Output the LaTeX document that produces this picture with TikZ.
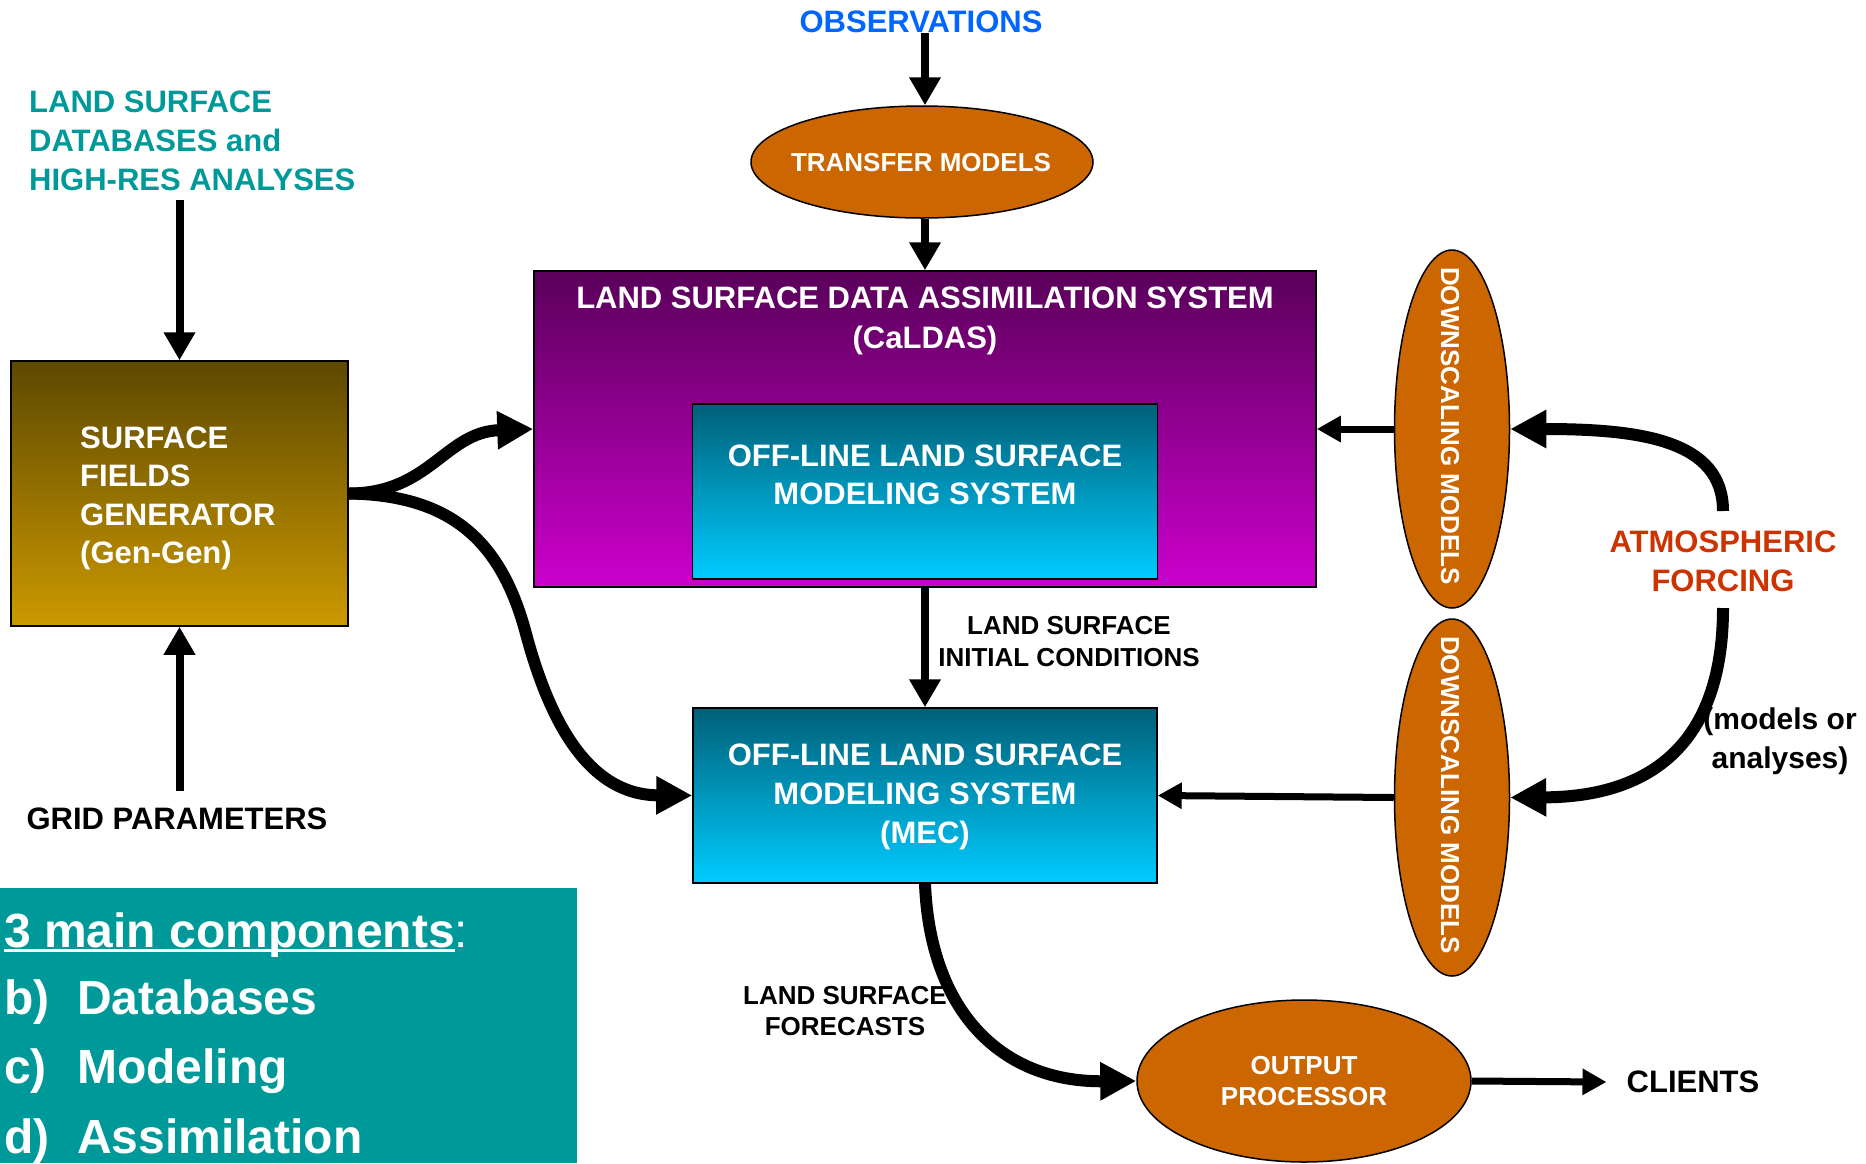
\documentclass[tikz,border=0pt]{standalone}
\usepackage{fontspec}
\setmainfont{Liberation Sans}
\usetikzlibrary{arrows.meta,shapes.geometric}
\definecolor{orng}{RGB}{204,102,0}
\definecolor{tealc}{RGB}{0,153,153}
\definecolor{obsblue}{RGB}{0,102,255}
\definecolor{atmred}{RGB}{204,51,0}
\definecolor{ggtop}{RGB}{92,72,0}
\definecolor{ggbot}{RGB}{204,153,0}
\definecolor{pptop}{RGB}{90,0,90}
\definecolor{ppbot}{RGB}{204,0,204}
\definecolor{cytop}{RGB}{0,96,120}
\definecolor{cybot}{RGB}{0,204,255}
\newcommand{\fsz}[2]{\fontsize{#1}{#2}\selectfont}
\begin{document}
\begin{tikzpicture}[x=1pt,y=-1pt,
  every node/.style={inner sep=0pt},
  oval/.style={ellipse, draw=black, line width=1.5pt, fill=orng, text=white},
  boxg/.style={rectangle, draw=black, line width=1.5pt, text=white},
  varr/.style={line width=8pt, -{Triangle[length=28pt,width=30pt]}},
  harr/.style={line width=7pt, -{Triangle[length=24pt,width=25pt]}},
  thickarr/.style={line width=12pt, -{Triangle[length=36pt,width=36pt]}},
]
\useasboundingbox (0,0) rectangle (1866,1163);

% top
\node[font=\bfseries\fsz{31}{38}, text=obsblue] (obs) at (921,22) {OBSERVATIONS};
\node[oval, minimum width=342pt, minimum height=112pt] (trans) at (922,162) {};
\node[text=white, font=\bfseries\fsz{26}{30}] (transtxt) at (921,163) {TRANSFER MODELS};

% CaLDAS
\node[boxg, minimum width=782pt, minimum height=316pt, top color=pptop, bottom color=ppbot] (caldas) at (925,429) {};
\node[align=center, text=white, font=\bfseries\fsz{31}{40}] (caltitle) at (925,321) {LAND SURFACE DATA ASSIMILATION SYSTEM\\(CaLDAS)};
\node[boxg, minimum width=465pt, minimum height=175pt, top color=cytop, bottom color=cybot] (inner) at (925,491.5) {};
\node[align=center, text=white, font=\bfseries\fsz{31}{38}] (innertxt) at (925,475) {OFF-LINE LAND SURFACE\\MODELING SYSTEM};

% MEC
\node[boxg, minimum width=464pt, minimum height=175pt, top color=cytop, bottom color=cybot] (mec) at (925,795.5) {};
\node[align=center, text=white, font=\bfseries\fsz{31}{39}] (mectxt) at (925,797) {OFF-LINE LAND SURFACE\\MODELING SYSTEM\\(MEC)};

% Gen-Gen
\node[boxg, minimum width=337pt, minimum height=265pt, top color=ggtop, bottom color=ggbot] (gen) at (179.5,493.5) {};
\node[align=left, anchor=west, text=white, font=\bfseries\fsz{31}{38.5}] (gentxt) at (80,498.5) {SURFACE\\FIELDS\\GENERATOR\\(Gen-Gen)};

% downscaling
\node[oval, minimum width=115pt, minimum height=358pt] (ds1) at (1452,429) {};
\node[rotate=-90, text=white, font=\bfseries\fsz{26}{30}] (ds1t) at (1450,426) {DOWNSCALING MODELS};
\node[oval, minimum width=115pt, minimum height=357pt] (ds2) at (1452,797.5) {};
\node[rotate=-90, text=white, font=\bfseries\fsz{26}{30}] (ds2t) at (1450,795) {DOWNSCALING MODELS};

% output
\node[oval, minimum width=334pt, minimum height=162pt, align=center, font=\bfseries\fsz{26}{31}] (out) at (1304,1081) {OUTPUT\\PROCESSOR};
\node[font=\bfseries\fsz{31}{38}, inner xsep=20pt] (cli) at (1693,1082) {CLIENTS};

% labels
\node[align=center, font=\bfseries\fsz{26}{32}] (lsic) at (1069,642) {LAND SURFACE\\INITIAL CONDITIONS};
\node[align=center, font=\bfseries\fsz{26}{31}] (lsf) at (845,1011) {LAND SURFACE\\FORECASTS};
\node[align=center, font=\bfseries\fsz{30}{39}] (mod) at (1780,741) {(models or\\analyses)};
\node[align=center, text=atmred, font=\bfseries\fsz{31}{39}] (atm) at (1723,561) {ATMOSPHERIC\\FORCING};
\node[align=left, anchor=west, text=tealc, font=\bfseries\fsz{31}{39}] (lsdb) at (29,141) {LAND SURFACE\\DATABASES and\\HIGH-RES ANALYSES};
\node[font=\bfseries\fsz{31}{38}] (grid) at (177,819) {GRID PARAMETERS};

% components box
\node[fill=tealc, minimum width=577pt, minimum height=275pt, anchor=north west] (comp) at (0,888) {};
\node[anchor=base west, text=white, font=\bfseries\fsz{48}{58}] (c0) at (4,947) {3 main components\mdseries:};
\draw[white, line width=3pt] (4,950) -- (455,950);
\node[anchor=base west, text=white, font=\bfseries\fsz{48}{58}] (c1) at (4,1014) {\makebox[73pt][l]{b)}Databases};
\node[anchor=base west, text=white, font=\bfseries\fsz{48}{58}] (c2) at (4,1083) {\makebox[73pt][l]{c)}Modeling};
\node[anchor=base west, text=white, font=\bfseries\fsz{48}{58}] (c3) at (4,1153) {\makebox[73pt][l]{d)}Assimilation};

% connectors
\coordinate (dbsend) at (179.5,200);
\coordinate (gridend) at (179.5,791);
\coordinate (af1) at (1723,511);
\coordinate (af2) at (1723,608);

\draw[varr] (obs.south -| caldas.north) -- (trans.north -| caldas.north);
\draw[varr] (trans.south -| caldas.north) -- (caldas.north);
\draw[varr] (caldas.south) -- (mec.north);
\draw[varr] (dbsend) -- (gen.north);
\draw[varr] (gridend) -- (gen.south);
\draw[harr] (ds1.west) -- (caldas.east);
\draw[harr] (ds2.west) -- (mec.east);
\draw[harr] (out.east) -- (cli.west);

\draw[thickarr] (gen.east) .. controls (430,493.5) and (445,432) .. (caldas.west);
\draw[thickarr] (gen.east) .. controls (450,495) and (500,540) .. (525,630) .. controls (550,725) and (590,795) .. (mec.west);
\draw[thickarr] (af1) .. controls (1723,440) and (1640,429) .. (ds1.east);
\draw[thickarr] (af2) .. controls (1723,770) and (1620,797) .. (ds2.east);
\draw[thickarr] (mec.south) .. controls (930,1010) and (1000,1082) .. (out.west);
\end{tikzpicture}
\end{document}
